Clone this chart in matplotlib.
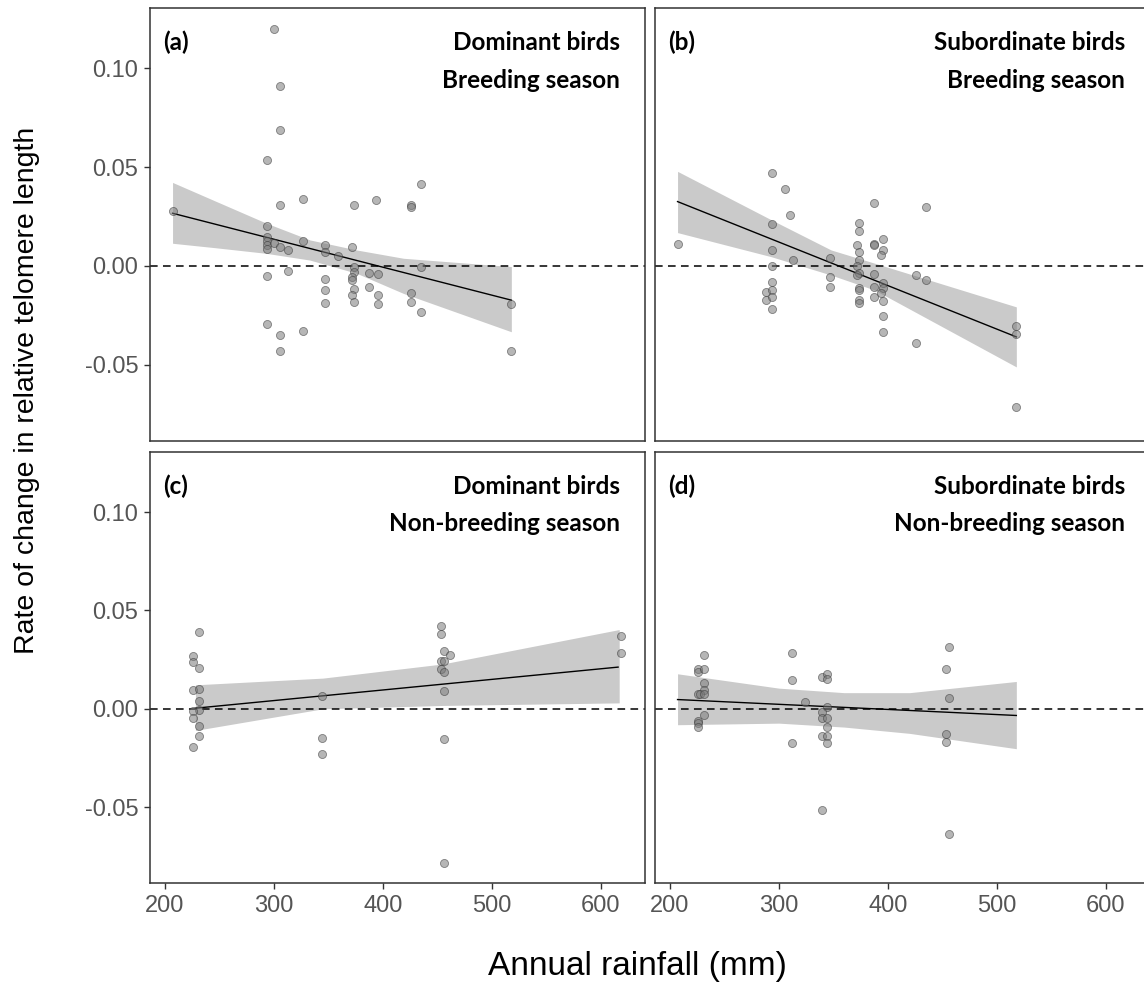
import matplotlib

matplotlib.use("Agg")

import matplotlib.pyplot as plt
import numpy as np

# ---- data ---------------------------------------------------------------
# (a) dominant birds, breeding season
A_X = [207, 300, 306, 306, 294, 306, 327, 374, 394, 294, 294, 294, 294, 294,
       300, 306, 313, 327, 347, 347, 359, 372, 374, 374, 372, 372, 374, 372,
       374, 294, 313, 347, 347, 347, 387, 396, 387, 396, 396, 294, 306, 306,
       327, 435, 426, 426, 435, 426, 426, 435, 518, 518]
A_Y = [0.0276, 0.120, 0.091, 0.069, 0.0536, 0.031, 0.034, 0.031, 0.0335,
       0.0203, 0.0146, 0.0129, 0.0107, 0.0085, 0.0115, 0.0098, 0.0081, 0.0125,
       0.0107, 0.0069, 0.0051, 0.0096, -0.0003, -0.0029, -0.0054, -0.0071,
       -0.0118, -0.0147, -0.0181, -0.0049, -0.0025, -0.0064, -0.0122, -0.0188,
       -0.0034, -0.0041, -0.0105, -0.0147, -0.0194, -0.0294, -0.035, -0.0431,
       -0.0327, 0.0416, 0.031, 0.0298, -0.0003, -0.0139, -0.0184, -0.0235,
       -0.0194, -0.0431]
A_LINE_X = [207, 518]
A_LINE_Y = [0.0267, -0.0173]
A_BAND_X = [207, 247, 293, 333, 376, 419, 518]
A_BAND_HI = [0.0423, 0.0327, 0.0217, 0.0132, 0.0081, 0.0039, -0.0003]
A_BAND_LO = [0.0115, 0.0092, 0.0064, 0.0030, -0.0037, -0.0139, -0.0333]

# (b) subordinate birds, breeding season
B_X = [207, 294, 306, 310, 294, 294, 294, 313, 294, 288, 294, 288, 294, 294,
       347, 347, 347, 374, 374, 372, 374, 374, 372, 374, 372, 374, 374, 374,
       374, 387, 387, 387, 387, 387, 387, 396, 396, 394, 396, 396, 394, 396,
       396, 396, 435, 426, 435, 426, 518, 518, 518]
B_Y = [0.0113, 0.0472, 0.0389, 0.026, 0.0212, 0.0081, 0.0, 0.0032, -0.0081,
       -0.013, -0.0122, -0.0171, -0.0156, -0.022, 0.0042, -0.0054, -0.0105,
       0.022, 0.0179, 0.0105, 0.0073, 0.003, 0.0, -0.0034, -0.0047, -0.0113,
       -0.0122, -0.0173, -0.0189, 0.0318, 0.0113, 0.0105, -0.0041, -0.0105,
       -0.0156, 0.0139, 0.0081, 0.0056, -0.0088, -0.0113, -0.0139, -0.0179,
       -0.0252, -0.0333, 0.0301, -0.0047, -0.0073, -0.0389, -0.0305, -0.0342,
       -0.0714]
B_LINE_X = [207, 518]
B_LINE_Y = [0.0326, -0.0359]
B_BAND_X = [207, 293, 348, 388, 518]
B_BAND_HI = [0.0479, 0.0234, 0.0081, 0.0014, -0.0207]
B_BAND_LO = [0.0169, 0.0047, -0.0046, -0.0122, -0.0511]

# (c) dominant birds, non-breeding season
C_X = [231, 226, 226, 231, 226, 231, 231, 231, 226, 226, 231, 231, 226,
       344, 344, 344, 453, 453, 456, 462, 453, 456, 453, 456, 456, 456, 456,
       619, 619]
C_Y = [0.0389, 0.0268, 0.0237, 0.021, 0.0096, 0.0102, 0.0039, -0.0008, -0.001,
       -0.0047, -0.0088, -0.0139, -0.0196, 0.0064, -0.0147, -0.0228, 0.0423,
       0.0382, 0.0294, 0.0274, 0.0245, 0.0245, 0.0203, 0.0186, 0.0088, -0.0156,
       -0.0783, 0.0372, 0.0284]
C_LINE_X = [228, 616]
C_LINE_Y = [0.0003, 0.0212]
C_BAND_X = [228, 345, 455, 617]
C_BAND_HI = [0.0122, 0.0156, 0.0228, 0.0403]
C_BAND_LO = [-0.011, 0.0, 0.0017, 0.003]

# (d) subordinate birds, non-breeding season
D_X = [231, 226, 226, 231, 231, 231, 226, 228, 231, 231, 226, 226, 226,
       312, 312, 324, 312, 340, 344, 344, 344, 340, 340, 344, 344, 340, 344,
       344, 340, 456, 453, 456, 453, 453, 456]
D_Y = [0.0274, 0.0203, 0.0186, 0.0203, 0.013, 0.0098, 0.0073, 0.0073, 0.0073,
       -0.0032, -0.0063, -0.0071, -0.0093, 0.0283, 0.0146, 0.0032, -0.0173,
       0.0162, 0.0179, 0.0152, 0.0008, -0.0017, -0.0047, -0.0047, -0.0095,
       -0.0139, -0.0139, -0.0173, -0.0513, 0.0316, 0.0203, 0.0056, -0.0129,
       -0.0171, -0.0636]
D_LINE_X = [207, 518]
D_LINE_Y = [0.0047, -0.0034]
D_BAND_X = [207, 300, 360, 420, 518]
D_BAND_HI = [0.0178, 0.0105, 0.0082, 0.0082, 0.0139]
D_BAND_LO = [-0.0081, -0.0073, -0.0093, -0.0125, -0.0203]

PANEL_TAGS = ["(a)", "(b)", "(c)", "(d)"]
PANEL_TITLES = [
    ("Dominant birds", "Breeding season"),
    ("Subordinate birds", "Breeding season"),
    ("Dominant birds", "Non-breeding season"),
    ("Subordinate birds", "Non-breeding season"),
]
X_TICKS = [200, 300, 400, 500, 600]
Y_TICKS = [-0.05, 0.0, 0.05, 0.10]
Y_TICK_LABELS = ["-0.05", "0.00", "0.05", "0.10"]

XLIM = (186.3, 640.7)
YLIM = (-0.0886, 0.1306)

W, H = 1144, 992


def draw_panel(ax, xs, ys, line_x, line_y, band_x, band_hi, band_lo, tag, title):
    ax.fill_between(band_x, band_lo, band_hi, color="#cacaca", linewidth=0, zorder=1)
    ax.axhline(0, color="black", linestyle=(0, (5, 3.5)), linewidth=1.1, zorder=2)
    ax.plot(line_x, line_y, color="black", linewidth=1.0, zorder=3)
    ax.scatter(xs, ys, s=34, facecolor="#7a7a7a", edgecolor="#333333",
               linewidth=0.6, alpha=0.55, zorder=4)

    ax.set_xlim(*XLIM)
    ax.set_ylim(*YLIM)
    ax.set_xticks(X_TICKS)
    ax.set_yticks(Y_TICKS)
    ax.set_yticklabels(Y_TICK_LABELS)
    for side in ax.spines.values():
        side.set_color("#333333")
        side.set_linewidth(1.1)

    bold = dict(family="Lato", fontweight="bold", fontsize=17.5, color="black")
    ax.text(0.027, 0.92, tag, transform=ax.transAxes, ha="left", va="center", **bold)
    ax.text(0.95, 0.92, title[0], transform=ax.transAxes, ha="right", va="center", **bold)
    ax.text(0.95, 0.833, title[1], transform=ax.transAxes, ha="right", va="center", **bold)


def main() -> None:
    plt.rcParams["font.family"] = ["Liberation Sans", "DejaVu Sans"]
    fig = plt.figure(figsize=(W / 100, H / 100), dpi=100)

    pw = 495 / W
    rects = [
        (150 / W, 1 - 441 / H, pw, 433 / H),
        (655 / W, 1 - 441 / H, pw, 433 / H),
        (150 / W, 1 - 883 / H, pw, 431 / H),
        (655 / W, 1 - 883 / H, pw, 431 / H),
    ]
    panels = [
        (A_X, A_Y, A_LINE_X, A_LINE_Y, A_BAND_X, A_BAND_HI, A_BAND_LO),
        (B_X, B_Y, B_LINE_X, B_LINE_Y, B_BAND_X, B_BAND_HI, B_BAND_LO),
        (C_X, C_Y, C_LINE_X, C_LINE_Y, C_BAND_X, C_BAND_HI, C_BAND_LO),
        (D_X, D_Y, D_LINE_X, D_LINE_Y, D_BAND_X, D_BAND_HI, D_BAND_LO),
    ]

    for i, (rect, data) in enumerate(zip(rects, panels)):
        ax = fig.add_axes(rect)
        draw_panel(ax, *data, PANEL_TAGS[i], PANEL_TITLES[i])
        left = i in (0, 2)
        bottom = i in (2, 3)
        ax.tick_params(axis="y", left=left, labelleft=left, length=4.5,
                       width=1.0, color="#333333", labelsize=17, labelcolor="#555555", pad=4)
        ax.tick_params(axis="x", bottom=bottom, labelbottom=bottom, length=4.5,
                       width=1.0, color="#333333", labelsize=17, labelcolor="#555555", pad=4)

    fig.text(27 / W, 1 - 390 / H, "Rate of change in relative telomere length",
             rotation=90, ha="center", va="center", fontsize=20.5, color="black")
    fig.text(637 / W, 1 - 967 / H, "Annual rainfall (mm)",
             ha="center", va="center", fontsize=24, color="black")

    fig.savefig("out.png", dpi=100)
    plt.close(fig)


if __name__ == "__main__":
    main()
